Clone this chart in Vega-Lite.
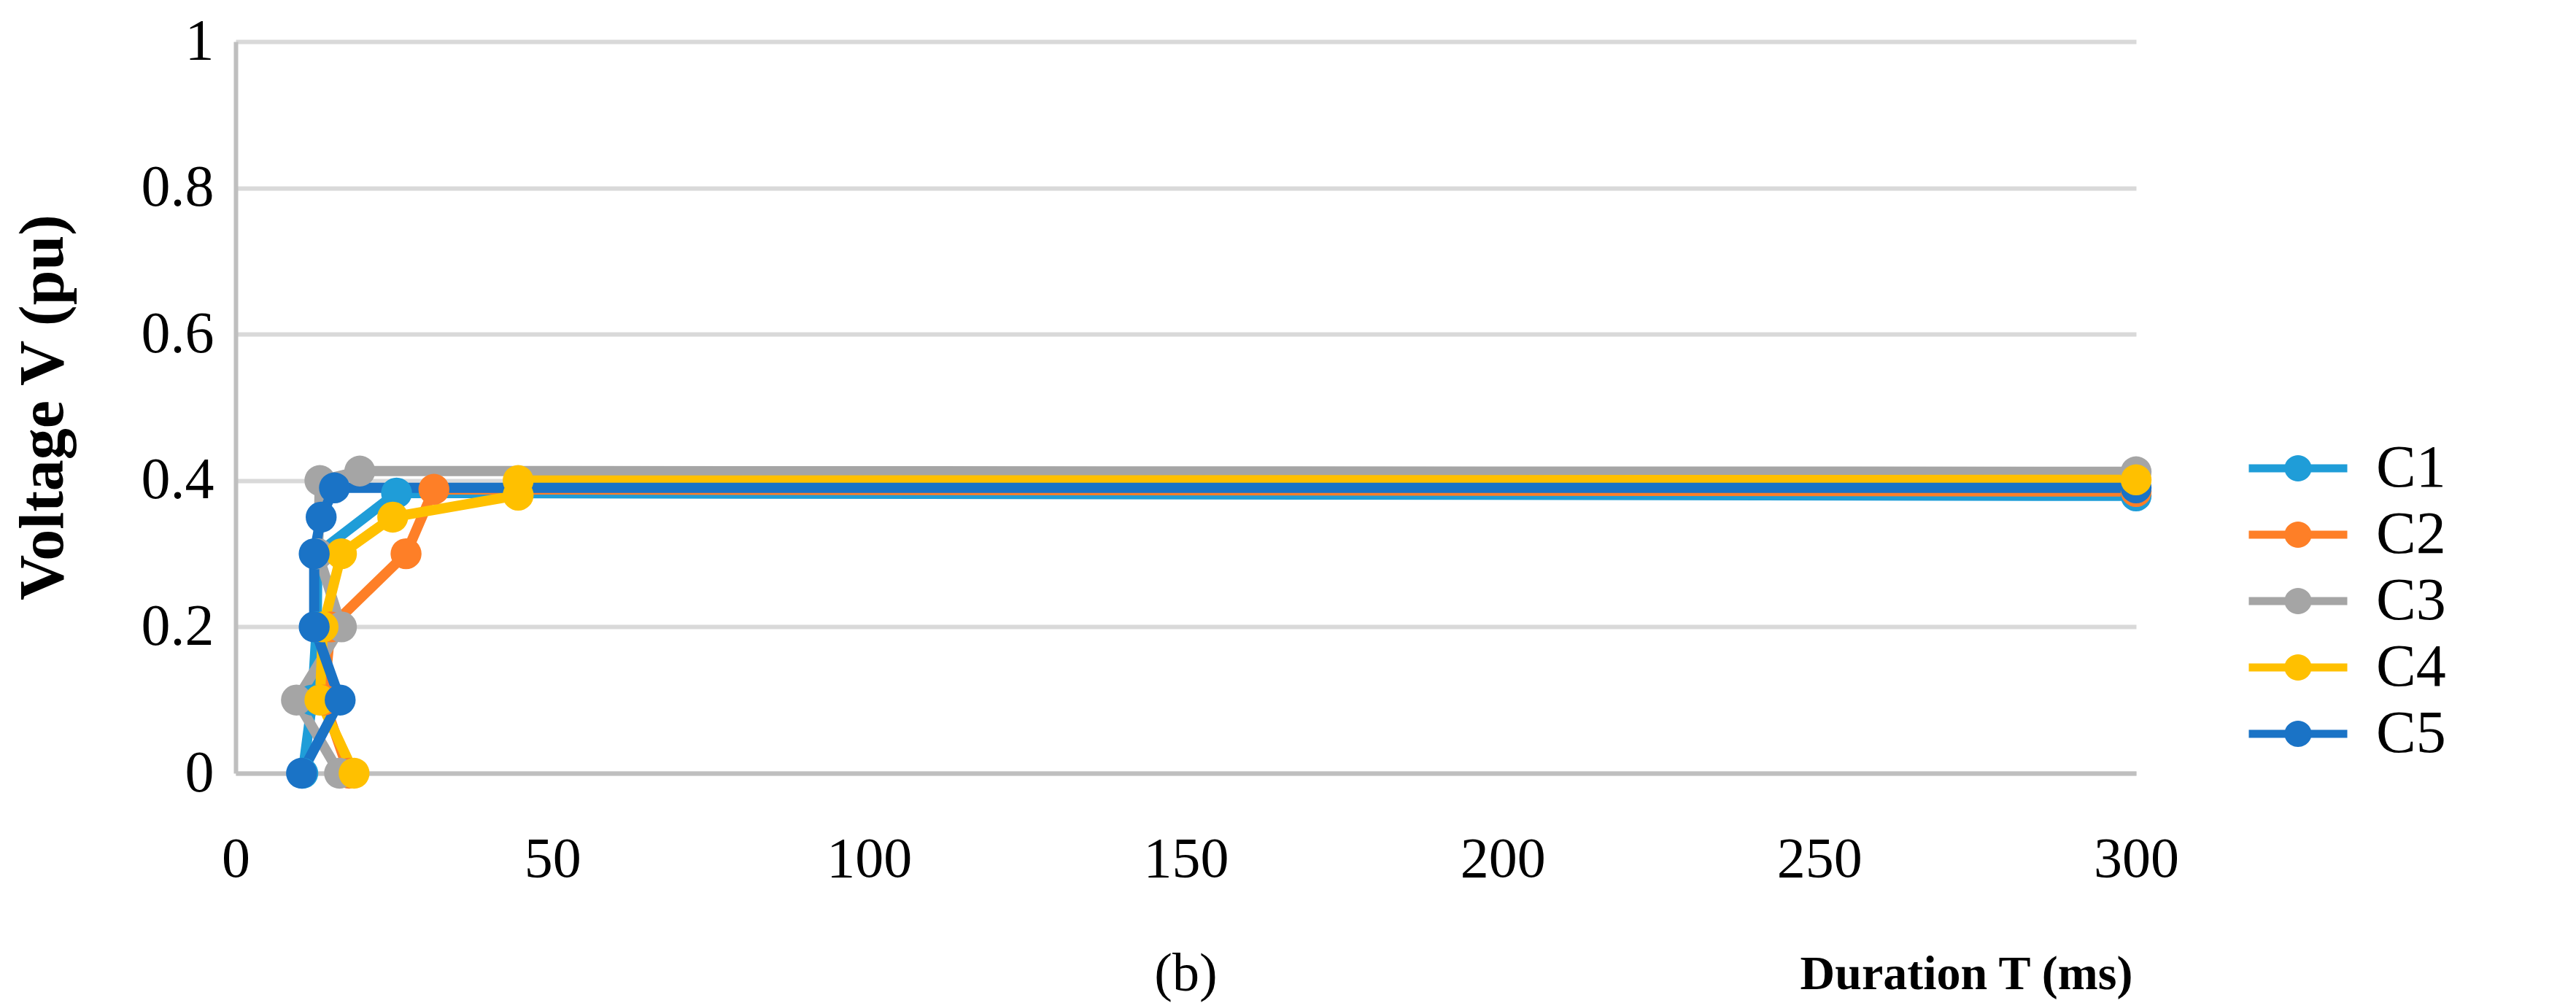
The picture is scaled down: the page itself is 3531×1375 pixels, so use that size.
{
  "$schema": "https://vega.github.io/schema/vega-lite/v6.json",
  "autosize": {"type": "none"},
  "padding": {"left": 323, "top": 57, "right": 603, "bottom": 315},
  "width": 2605,
  "height": 1003,
  "background": "white",
  "config": {"view": {"stroke": null}, "font": "Liberation Serif"},
  "title": {"text": "(b)", "orient": "bottom", "anchor": "middle", "frame": "group", "fontSize": 74, "fontWeight": "normal", "font": "Liberation Serif", "color": "black", "offset": 0, "dx": 0, "dy": -68},
  "data": {"values": [
    {"s": "C1", "i": 0, "t": 10.6, "v": 0},
    {"s": "C1", "i": 1, "t": 12.1, "v": 0.1},
    {"s": "C1", "i": 2, "t": 12.8, "v": 0.2},
    {"s": "C1", "i": 3, "t": 12.9, "v": 0.3},
    {"s": "C1", "i": 4, "t": 25.4, "v": 0.383},
    {"s": "C1", "i": 5, "t": 300, "v": 0.379},
    {"s": "C2", "i": 0, "t": 17.9, "v": 0},
    {"s": "C2", "i": 1, "t": 13.9, "v": 0.1},
    {"s": "C2", "i": 2, "t": 15.0, "v": 0.2},
    {"s": "C2", "i": 3, "t": 26.9, "v": 0.3},
    {"s": "C2", "i": 4, "t": 31.3, "v": 0.388},
    {"s": "C2", "i": 5, "t": 300, "v": 0.385},
    {"s": "C3", "i": 0, "t": 16.4, "v": 0},
    {"s": "C3", "i": 1, "t": 9.6, "v": 0.1},
    {"s": "C3", "i": 2, "t": 16.7, "v": 0.2},
    {"s": "C3", "i": 3, "t": 13.0, "v": 0.3},
    {"s": "C3", "i": 4, "t": 13.3, "v": 0.4},
    {"s": "C3", "i": 5, "t": 19.6, "v": 0.413},
    {"s": "C3", "i": 6, "t": 300, "v": 0.412},
    {"s": "C4", "i": 0, "t": 18.7, "v": 0},
    {"s": "C4", "i": 1, "t": 13.3, "v": 0.1},
    {"s": "C4", "i": 2, "t": 13.8, "v": 0.2},
    {"s": "C4", "i": 3, "t": 16.7, "v": 0.3},
    {"s": "C4", "i": 4, "t": 24.8, "v": 0.35},
    {"s": "C4", "i": 5, "t": 44.6, "v": 0.38},
    {"s": "C4", "i": 6, "t": 44.6, "v": 0.4},
    {"s": "C4", "i": 7, "t": 300, "v": 0.401},
    {"s": "C5", "i": 0, "t": 10.4, "v": 0},
    {"s": "C5", "i": 1, "t": 16.5, "v": 0.1},
    {"s": "C5", "i": 2, "t": 12.4, "v": 0.2},
    {"s": "C5", "i": 3, "t": 12.4, "v": 0.3},
    {"s": "C5", "i": 4, "t": 13.5, "v": 0.35},
    {"s": "C5", "i": 5, "t": 15.6, "v": 0.39},
    {"s": "C5", "i": 6, "t": 300, "v": 0.39}
  ]},
  "mark": {"type": "line", "strokeWidth": 14, "strokeJoin": "round", "strokeCap": "round", "point": {"filled": true, "size": 1800, "opacity": 1}},
  "encoding": {
    "x": {
      "field": "t", "type": "quantitative",
      "scale": {"domain": [0, 300], "nice": false, "zero": false},
      "axis": {
        "values": [0, 50, 100, 150, 200, 250, 300],
        "grid": false, "ticks": false, "tickSize": 0, "labelFlush": false,
        "domainColor": "#bfbfbf", "domainWidth": 6,
        "labelFontSize": 78, "labelColor": "black", "labelPadding": 79, "labelFont": "Liberation Serif",
        "title": "Duration T (ms)", "titleFontSize": 66, "titleFontWeight": "bold", "titleColor": "black", "titleFont": "Liberation Serif",
        "titleAlign": "right", "titleAnchor": "end", "titleX": 2600, "titleY": 295, "titleBaseline": "alphabetic"
      }
    },
    "y": {
      "field": "v", "type": "quantitative",
      "scale": {"domain": [0, 1], "nice": false},
      "axis": {
        "values": [0, 0.2, 0.4, 0.6, 0.8, 1], "format": "~g",
        "grid": true, "gridColor": "#d9d9d9", "gridWidth": 6,
        "ticks": false, "tickSize": 0, "labelFlush": false,
        "domainColor": "#bfbfbf", "domainWidth": 6,
        "labelFontSize": 80, "labelColor": "black", "labelPadding": 30, "labelFont": "Liberation Serif",
        "title": "Voltage V (pu)", "titleFontSize": 86, "titleFontWeight": "bold", "titleColor": "black", "titleFont": "Liberation Serif",
        "titleAngle": 270, "titleX": -238, "titleY": 501, "titleAlign": "center", "titleBaseline": "alphabetic"
      }
    },
    "color": {
      "field": "s", "type": "nominal",
      "scale": {"domain": ["C1", "C2", "C3", "C4", "C5"], "range": ["#1F9DD8", "#FE7F27", "#A5A5A5", "#FFC000", "#1A73C6"]},
      "legend": {
        "title": null, "orient": "none", "legendX": 2786, "legendY": 544, "padding": 0,
        "symbolType": "M-3,-0.245L-0.79,-0.245A0.84,0.84 0 0,1 0.79,-0.245L3,-0.245L3,0.245L0.79,0.245A0.84,0.84 0 0,1 -0.79,0.245L-3,0.245Z",
        "symbolSize": 2025, "symbolStrokeWidth": 0, "symbolOpacity": 1,
        "labelFontSize": 82, "labelFont": "Liberation Serif", "labelColor": "black", "labelOffset": 66, "labelLimit": 0,
        "rowPadding": 9,
        "encode": {"symbols": {"update": {"fill": {"scale": "color", "field": "value"}, "stroke": {"value": "transparent"}, "opacity": {"value": 1}}}}
      }
    },
    "order": {"field": "i", "type": "quantitative"}
  }
}
